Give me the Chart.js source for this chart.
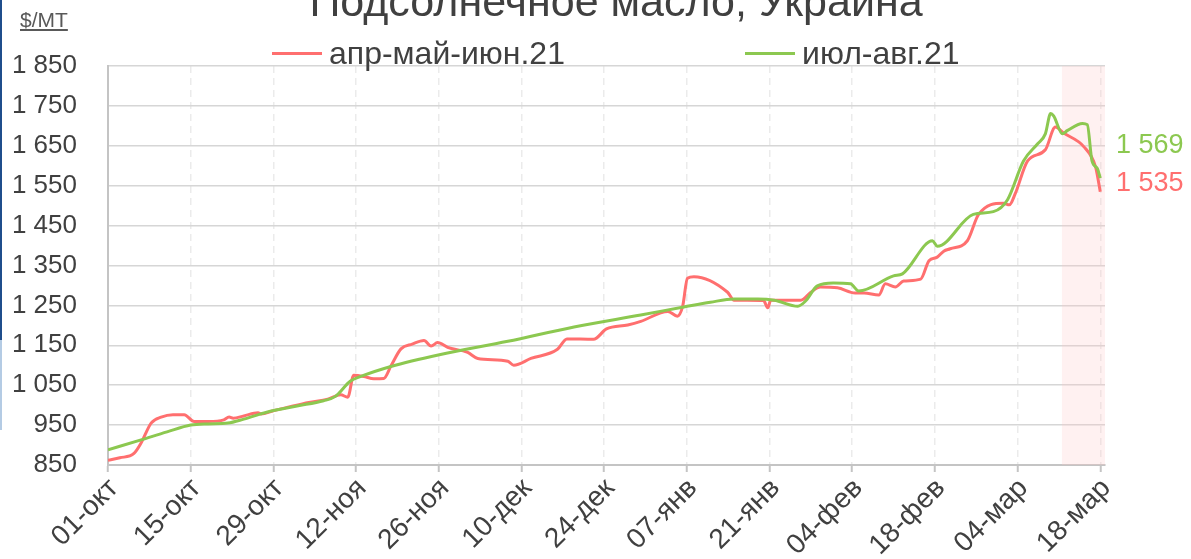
<!DOCTYPE html>
<html>
<head>
<meta charset="utf-8">
<script src="https://cdn.jsdelivr.net/npm/chart.js@4.4.1/dist/chart.umd.min.js"></script>
<style>
    body { margin: 0; background: #fff; overflow: hidden; font-family: 'Liberation Sans', Arial, sans-serif; }
    #wrap { position: relative; width: 1191px; height: 559px; }
    #title { position: absolute; left: 0; width: 1232px; top: -23px; text-align: center; font-size: 43px; color: #404040; white-space: nowrap; }
    #unit { position: absolute; left: 20px; top: 8px; font-size: 21px; color: #595959; text-decoration: underline; }
    .leg { position: absolute; top: 35px; font-size: 32px; color: #404040; white-space: nowrap; }
    .leg span { display: inline-block; width: 50px; height: 3px; vertical-align: middle; margin-right: 7px; position: relative; top: -2px; }
    #edgeDark { position: absolute; left: 0; top: 0; width: 2px; height: 340px; background: #1f4e8c; }
    #edgeLight { position: absolute; left: 0; top: 340px; width: 2px; height: 90px; background: #b4cbe4; }
</style>
</head>
<body>
<div id="wrap">
    <canvas id="chart"></canvas>
    <div id="title">Подсолнечное масло, Украина</div>
    <div id="unit">$/MT</div>
    <div class="leg" style="left:272px"><span style="background:#ff6f6f"></span>апр-май-июн.21</div>
    <div class="leg" style="left:745px"><span style="background:#8cc850"></span>июл-авг.21</div>
    <div id="edgeDark"></div>
    <div id="edgeLight"></div>
</div>
<script>
// x axis: days from 01-окт
const tickDays = [0, 14, 28, 42, 56, 70, 84, 98, 112, 126, 140, 154, 168];
const tickLabels = ['01-окт', '15-окт', '29-окт', '12-ноя', '26-ноя', '10-дек', '24-дек',
    '07-янв', '21-янв', '04-фев', '18-фев', '04-мар', '18-мар'];

// апр-май-июн.21
const aprDays = [0, 2, 4.4, 5.6, 7.3, 9, 11, 12.9, 14.6, 17, 19.6, 20.5, 21.2, 23, 25.4, 25.9, 28, 31, 34,
    37.2, 39.4, 40.6, 41.6, 43.3, 45, 46.7, 47.9, 49.6, 51.5, 53.5, 54.7, 55.8, 57.5, 60.9, 62.6, 67.7,
    68.7, 71.6, 76.1, 77.7, 82.2, 84.4, 88, 90.2, 94.8, 96.4, 97.3, 98.1, 99.2, 104.9, 106, 111, 111.7,
    112.2, 117.3, 119, 120.6, 123.5, 126.5, 128, 130.5, 131.6, 133.3, 134.7, 137.6, 139, 140.4, 141.5,
    142.6, 145.5, 147.4, 151.6, 152.6, 153.6, 155.7, 158.7, 160.4, 161.8, 165.2, 167.2, 168];
const aprValues = [862, 868, 879, 905, 955, 970, 976, 976, 959, 959, 963, 970, 967, 973, 981, 978, 986, 997, 1007,
    1015, 1026, 1020, 1075, 1072, 1066, 1067, 1098, 1141, 1153, 1162, 1148, 1157, 1145, 1132, 1117, 1110,
    1100, 1117, 1140, 1166, 1165, 1191, 1201, 1210, 1235, 1223, 1248, 1318, 1322, 1283, 1263, 1262, 1244,
    1263, 1263, 1283, 1296, 1294, 1281, 1281, 1276, 1304, 1296, 1311, 1316, 1362, 1371, 1386,
    1392, 1412, 1478, 1506, 1502, 1530, 1612, 1640, 1697, 1682, 1648, 1597, 1535];

// июл-авг.21
const julDays = [0, 5.6, 10, 14, 17, 20.3, 23, 27, 32, 36.5, 38.5, 41, 42.8, 47.9, 56.3, 67.7, 78.9, 90.2,
    97.5, 102, 106, 110, 112.8, 116.8, 118.1, 120.1, 122.8, 125.7, 127.1, 133, 134.5, 139.6, 140.4,
    146.5, 149.9, 152.3, 155, 157.4, 158.7, 159.6, 160.1, 161.6, 162.4, 165, 165.8, 166.6, 167.5, 168];
const julValues = [888, 913, 933, 950, 953, 955, 965, 983, 998, 1011, 1022, 1060, 1072, 1097, 1127, 1160, 1196, 1226,
    1246, 1258, 1266, 1266, 1263, 1248, 1261, 1299, 1306, 1304, 1286, 1324, 1329, 1412, 1398,
    1478, 1485, 1515, 1612, 1655, 1680, 1731, 1725, 1680, 1688, 1706, 1703, 1612, 1593, 1569];

// shaded period (day index)
const shadeFrom = 161.5;

const RED = '#ff6f6f';
const GREEN = '#8cc850';
const FONT = "'Liberation Sans', Arial, sans-serif";

function fmt(v) {
    if (v < 1000) return String(v);
    return Math.floor(v / 1000) + ' ' + String(Math.round(v) % 1000).padStart(3, '0');
}

const shadePlugin = {
    id: 'shade',
    beforeDatasetsDraw(chart) {
        const { ctx, chartArea, scales } = chart;
        const x0 = scales.x.getPixelForValue(shadeFrom);
        ctx.save();
        ctx.fillStyle = 'rgba(255, 200, 200, 0.25)';
        ctx.fillRect(x0, chartArea.top, chartArea.right - x0, chartArea.bottom - chartArea.top);
        ctx.restore();
    }
};

const endLabels = {
    id: 'endLabels',
    afterDatasetsDraw(chart) {
        const { ctx, chartArea } = chart;
        ctx.save();
        ctx.font = '27px ' + FONT;
        ctx.textBaseline = 'middle';
        ctx.textAlign = 'left';
        chart.data.datasets.forEach((ds, i) => {
            const pts = chart.getDatasetMeta(i).data;
            const last = pts[pts.length - 1];
            const v = ds.data[ds.data.length - 1].y;
            ctx.fillStyle = ds.borderColor;
            ctx.fillText(fmt(v), chartArea.right + 11, last.y + ds.labelShift);
        });
        ctx.restore();
    }
};

const ctx = document.getElementById('chart').getContext('2d');
new Chart(ctx, {
    type: 'line',
    data: {
        datasets: [{
            label: 'июл-авг.21',
            data: julDays.map((d, i) => ({ x: d, y: julValues[i] })),
            borderColor: GREEN,
            borderWidth: 3,
            pointRadius: 0,
            cubicInterpolationMode: 'monotone',
            labelShift: -33
        }, {
            label: 'апр-май-июн.21',
            data: aprDays.map((d, i) => ({ x: d, y: aprValues[i] })),
            borderColor: RED,
            borderWidth: 3,
            pointRadius: 0,
            cubicInterpolationMode: 'monotone',
            labelShift: -8
        }]
    },
    options: {
        responsive: true,
        maintainAspectRatio: false,
        animation: false,
        layout: { padding: { top: 66, right: 86, left: 0, bottom: 0 } },
        plugins: {
            legend: { display: false },
            tooltip: { enabled: false }
        },
        scales: {
            x: {
                type: 'linear',
                min: 0,
                max: 168.8,
                afterBuildTicks: s => { s.ticks = tickDays.map(v => ({ value: v })); },
                afterFit: s => { s.height = 94; },
                grid: { color: '#ebebeb', lineWidth: 1.5, tickLength: 7, tickColor: '#c4c4c4', tickWidth: 2 },
                border: { color: '#c4c4c4', width: 2, dash: [7, 5] },
                ticks: {
                    autoSkip: false,
                    minRotation: 45,
                    maxRotation: 45,
                    padding: 0,
                    labelOffset: 6,
                    color: '#404040',
                    font: { family: FONT, size: 28 },
                    callback: v => tickLabels[tickDays.indexOf(v)]
                }
            },
            y: {
                min: 850,
                max: 1850,
                afterFit: s => { s.width = 108; },
                grid: { color: '#d6d6d6', lineWidth: 1.5, drawTicks: false },
                border: { color: '#c4c4c4', width: 2 },
                ticks: {
                    stepSize: 100,
                    padding: 31,
                    color: '#404040',
                    font: { family: FONT, size: 26 },
                    callback: v => fmt(v)
                }
            }
        }
    },
    plugins: [shadePlugin, endLabels]
});
</script>
</body>
</html>
